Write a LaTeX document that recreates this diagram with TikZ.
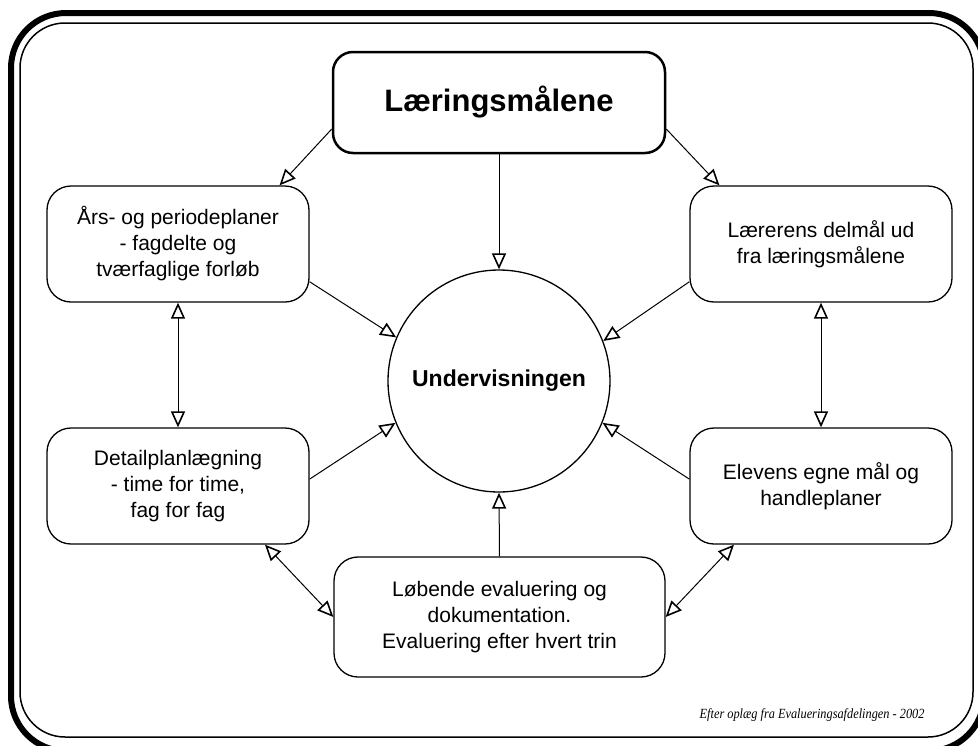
\documentclass[tikz,border=0pt]{standalone}
\usepackage{fontspec}
\setmainfont{Liberation Sans}
\newfontfamily\creditfont{Liberation Serif}
\usetikzlibrary{arrows.meta}

\begin{document}
\begin{tikzpicture}[x=1pt,y=-1pt,
    >={Triangle[open,length=16pt,width=14pt,line width=1.6pt]},
    box/.style={draw,line width=1.3pt,rounded corners=24pt,align=center,
      minimum width=262pt,minimum height=116pt,inner sep=0pt,
      font=\fontsize{21}{26}\selectfont},
    link/.style={line width=1pt}]
  \useasboundingbox (0,0) rectangle (978,745);
  % frame
  \begin{scope}
    \clip (0,0) rectangle (978,745);
    \draw[line width=6pt,rounded corners=55pt] (11,13) rectangle (984,751);
  \end{scope}
  \draw[line width=1.5pt,rounded corners=45pt] (20,23) rectangle (973,737);
  \draw
    (499,102.5) node[box,line width=2.5pt,minimum width=332pt,minimum height=101pt,
      rounded corners=20pt,font=\fontsize{31}{36}\selectfont\bfseries] (goal){Læringsmålene}
    (499,381) node[circle,draw,line width=1.3pt,minimum size=222pt,
      font=\fontsize{23}{28}\selectfont\bfseries] (teaching){Undervisningen}
    (178,244) node[box] (plans){Års- og periodeplaner\\- fagdelte og\\tværfaglige forløb}
    (821,244) node[box] (teacher){Lærerens delmål ud\\fra læringsmålene}
    (178,486) node[box] (detail){Detailplanlægning\\- time for time,\\fag for fag}
    (821,486) node[box] (pupil){Elevens egne mål og\\handleplaner}
    (499.5,617) node[box,minimum width=331pt,minimum height=120pt] (evalb){Løbende evaluering og\\dokumentation.\\Evaluering efter hvert trin};
  \node[anchor=base east,font=\creditfont\itshape\fontsize{14}{17}\selectfont] (credit)
    at (928,718) {\scalebox{0.88}[1]{Efter oplæg fra Evalueringsafdelingen - 2002}};
  \begin{scope}[link,->]
    \draw (goal) to (teaching);
    \draw (goal.189) to (plans.30);
    \draw (goal.351) to (teacher.150);
    \draw (plans.-16) to (teaching.157);
    \draw (teacher.196) to (teaching.21);
    \draw (detail.3) to (teaching.202);
    \draw (pupil.177) to (teaching.338);
    \draw (evalb.north) to (teaching.south);
  \end{scope}
  \begin{scope}[link,<->]
    \draw (plans) to (detail);
    \draw (teacher) to (pupil);
    \draw (detail.-34) to (evalb.west);
    \draw (pupil.214) to (evalb.east);
  \end{scope}
\end{tikzpicture}
\end{document}
